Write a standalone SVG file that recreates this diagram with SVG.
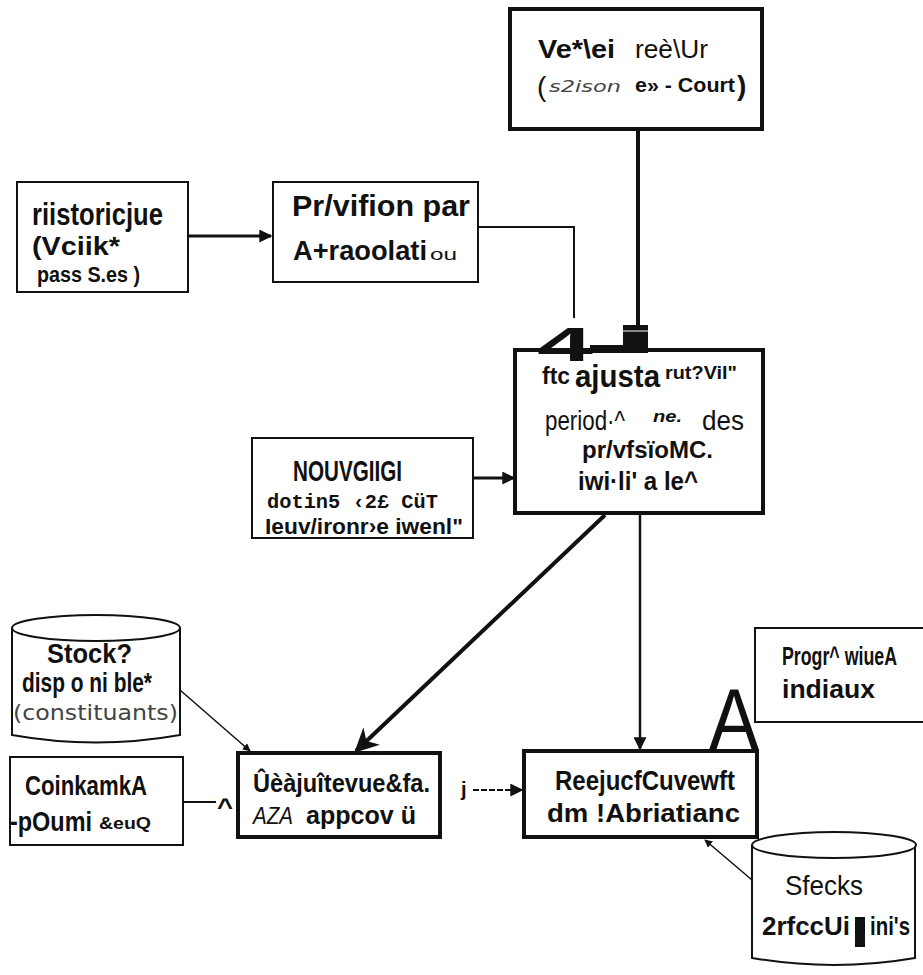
<svg xmlns="http://www.w3.org/2000/svg" width="923" height="975" viewBox="0 0 923 975">
<defs>
<style>
.box{fill:#fff;stroke:#111;stroke-width:2}
.thick{fill:#fff;stroke:#111;stroke-width:4}
.ln{stroke:#111;fill:none}
.b{font-family:"Liberation Sans",Arial,sans-serif;font-weight:bold;fill:#111}
.r{font-family:"Liberation Sans",Arial,sans-serif;fill:#111}
.m{font-family:"Liberation Mono","Courier New",monospace;font-weight:bold;fill:#111}
.h{font-family:"DejaVu Sans",sans-serif;fill:#444}
</style>
<marker id="ah" viewBox="0 0 10 10" refX="9" refY="5" markerWidth="8" markerHeight="8" orient="auto" markerUnits="userSpaceOnUse"><path d="M0,0 L10,5 L0,10 z" fill="#111"/></marker>
<marker id="ahs" viewBox="0 0 10 10" refX="9" refY="5" markerWidth="13" markerHeight="13" orient="auto" markerUnits="userSpaceOnUse"><path d="M0,0 L10,5 L0,10 z" fill="#111"/></marker>
<marker id="ahb" viewBox="0 0 10 10" refX="9" refY="5" markerWidth="24" markerHeight="24" orient="auto" markerUnits="userSpaceOnUse"><path d="M0,0 L10,5 L0,10 L3,5 z" fill="#111"/></marker>
</defs>
<rect width="923" height="975" fill="#fff"/>

<g id="connectors">
<line class="ln" x1="188" y1="236" x2="271" y2="236" style="stroke-width:3" marker-end="url(#ahs)"/>
<polyline class="ln" points="478,227 574,227 574,318" style="stroke-width:2"/>
<line class="ln" x1="638" y1="128" x2="638" y2="326" style="stroke-width:4"/>
<line class="ln" x1="473" y1="478" x2="514" y2="478" style="stroke-width:3" marker-end="url(#ahs)"/>
<line class="ln" x1="605" y1="515" x2="356" y2="751" style="stroke-width:4" marker-end="url(#ahb)"/>
<line class="ln" x1="640" y1="515" x2="640" y2="749" style="stroke-width:2.5" marker-end="url(#ahs)"/>
<line class="ln" x1="180" y1="690" x2="250" y2="751" style="stroke-width:1.5" marker-end="url(#ah)"/>
<line class="ln" x1="183" y1="802" x2="216" y2="802" style="stroke-width:2"/>
<line class="ln" x1="473" y1="790" x2="522" y2="790" style="stroke-width:2;stroke-dasharray:6,2" marker-end="url(#ahs)"/>
<line class="ln" x1="752" y1="880" x2="705" y2="840" style="stroke-width:1.5" marker-end="url(#ah)"/>
</g>

<g id="reel">
<rect class="thick" x="510" y="9" width="252" height="120"/>
<text class="b" x="538" y="58" font-size="26" textLength="77" lengthAdjust="spacingAndGlyphs">Ve*\ei</text>
<text class="r" x="635" y="58" font-size="26" textLength="73" lengthAdjust="spacingAndGlyphs">reè\Ur</text>
<text class="r" x="537" y="96" font-size="28" fill="#444">(</text>
<text class="h" x="549" y="92" font-size="16" font-style="italic" textLength="72" lengthAdjust="spacingAndGlyphs">s2ison</text>
<text class="b" x="635" y="92" font-size="20" textLength="100" lengthAdjust="spacingAndGlyphs">e» - Court</text>
<text class="b" x="737" y="95" font-size="28">)</text>
</g>

<g id="historique">
<rect class="box" x="17" y="182" width="171" height="110"/>
<text class="b" x="32" y="225" font-size="31" textLength="131" lengthAdjust="spacingAndGlyphs">riistoricjue</text>
<text class="b" x="32" y="255" font-size="25" textLength="88" lengthAdjust="spacingAndGlyphs">(Vciik*</text>
<text class="b" x="37" y="282" font-size="22" textLength="103" lengthAdjust="spacingAndGlyphs">pass S.es )</text>
</g>

<g id="prevision">
<rect class="box" x="273" y="182" width="205" height="100"/>
<text class="b" x="292" y="216" font-size="30" textLength="178" lengthAdjust="spacingAndGlyphs">Pr/vifion  par</text>
<text class="b" x="293" y="260" font-size="27" textLength="134" lengthAdjust="spacingAndGlyphs">A+raoolati</text>
<text class="r" x="430" y="260" font-size="16" textLength="27" lengthAdjust="spacingAndGlyphs">ou</text>
</g>

<g id="ajustement">
<rect class="thick" x="515" y="350" width="248" height="163"/>
<text class="b" x="537" y="361" font-size="48" textLength="56" lengthAdjust="spacingAndGlyphs">4</text>
<rect x="590" y="345" width="33" height="8" fill="#111"/>
<rect x="623" y="325" width="25" height="28" fill="#111"/>
<line x1="623" y1="331" x2="648" y2="331" stroke="#fff" stroke-width="1"/>
<text class="b" x="542" y="384" font-size="23" textLength="28" lengthAdjust="spacingAndGlyphs">ftc</text>
<text class="b" x="575" y="387" font-size="32" textLength="85" lengthAdjust="spacingAndGlyphs">ajusta</text>
<text class="b" x="665" y="379" font-size="18" textLength="72" lengthAdjust="spacingAndGlyphs">rut?Vil"</text>
<text class="r" x="545" y="430" font-size="28" textLength="80" lengthAdjust="spacingAndGlyphs">period·^</text>
<text class="b" x="653" y="422" font-size="17" font-style="italic" textLength="29" lengthAdjust="spacingAndGlyphs">ne.</text>
<text class="r" x="702" y="430" font-size="28" textLength="42" lengthAdjust="spacingAndGlyphs">des</text>
<text class="b" x="582" y="458" font-size="24" textLength="131" lengthAdjust="spacingAndGlyphs">pr/vfsïoMC.</text>
<text class="b" x="578" y="490" font-size="26" textLength="120" lengthAdjust="spacingAndGlyphs">iwi·li' a le^</text>
</g>

<g id="nouveaute">
<rect class="box" x="252" y="438" width="221" height="100"/>
<text class="b" x="293" y="481" font-size="30" textLength="109" lengthAdjust="spacingAndGlyphs">NOUVGIIGI</text>
<text class="m" x="267" y="508" font-size="20" textLength="171" lengthAdjust="spacingAndGlyphs">dotin5 ‹2£  CüT</text>
<text class="b" x="265" y="534" font-size="22" textLength="198" lengthAdjust="spacingAndGlyphs">Ieuv/ironr›e iwenl"</text>
</g>

<g id="stock-disponible">
<path class="box" d="M12,628 L12,735 Q96,750 180,735 L180,628"/>
<ellipse class="box" cx="96" cy="628" rx="84" ry="13"/>
<text class="b" x="47" y="663" font-size="28" textLength="85" lengthAdjust="spacingAndGlyphs">Stock?</text>
<text class="b" x="22" y="692" font-size="28" textLength="130" lengthAdjust="spacingAndGlyphs">disp o ni ble*</text>
<text class="h" x="13" y="720" font-size="21" textLength="165" lengthAdjust="spacingAndGlyphs">(constituants)</text>
</g>

<g id="conditions">
<rect class="box" x="10" y="757" width="173" height="88"/>
<text class="b" x="25" y="795" font-size="28" textLength="122" lengthAdjust="spacingAndGlyphs">CoinkamkA</text>
<text class="b" x="10" y="831" font-size="28" textLength="82" lengthAdjust="spacingAndGlyphs">-pOumi</text>
<text class="b" x="99" y="829" font-size="17" textLength="52" lengthAdjust="spacingAndGlyphs">&amp;euQ</text>
<text class="b" x="217" y="815" font-size="24" textLength="16" lengthAdjust="spacingAndGlyphs">^</text>
</g>

<g id="ajustement-appro">
<rect class="thick" x="238" y="753" width="202" height="84"/>
<text class="b" x="253" y="792" font-size="26" textLength="177" lengthAdjust="spacingAndGlyphs">Ûèàjuîtevue&amp;fa.</text>
<text class="r" x="253" y="824" font-size="23" font-style="italic" textLength="40" lengthAdjust="spacingAndGlyphs">AZA</text>
<text class="b" x="306" y="824" font-size="25" textLength="110" lengthAdjust="spacingAndGlyphs">appcov ü</text>
<text class="b" x="461" y="796" font-size="20">j</text>
</g>

<g id="reajustement">
<rect class="thick" x="524" y="751" width="233" height="86"/>
<text class="b" x="555" y="790" font-size="27" textLength="180" lengthAdjust="spacingAndGlyphs">ReejucfCuvewft</text>
<text class="b" x="547" y="822" font-size="25" textLength="193" lengthAdjust="spacingAndGlyphs">dm  !Abriatianc</text>
</g>

<g id="programmes">
<path class="box" d="M923,628 L755,628 L755,722 L923,722"/>
<text class="b" x="782" y="665" font-size="26" textLength="115" lengthAdjust="spacingAndGlyphs">Progr^ wiueA</text>
<text class="b" x="782" y="698" font-size="26" textLength="93" lengthAdjust="spacingAndGlyphs">indiaux</text>
<text class="r" x="709" y="750" font-size="88" textLength="50" lengthAdjust="spacingAndGlyphs">A</text>
</g>

<g id="stocks-finis">
<path class="box" d="M752,845 L752,958 Q834,972 915,958 L915,845"/>
<ellipse class="box" cx="834" cy="845" rx="82" ry="13"/>
<text class="r" x="785" y="895" font-size="28" textLength="78" lengthAdjust="spacingAndGlyphs">Sfecks</text>
<text class="b" x="762" y="935" font-size="25" textLength="88" lengthAdjust="spacingAndGlyphs">2rfccUi</text>
<rect x="855" y="917" width="10" height="30" fill="#111"/>
<text class="b" x="870" y="935" font-size="25" textLength="40" lengthAdjust="spacingAndGlyphs">ini's</text>
</g>
</svg>
